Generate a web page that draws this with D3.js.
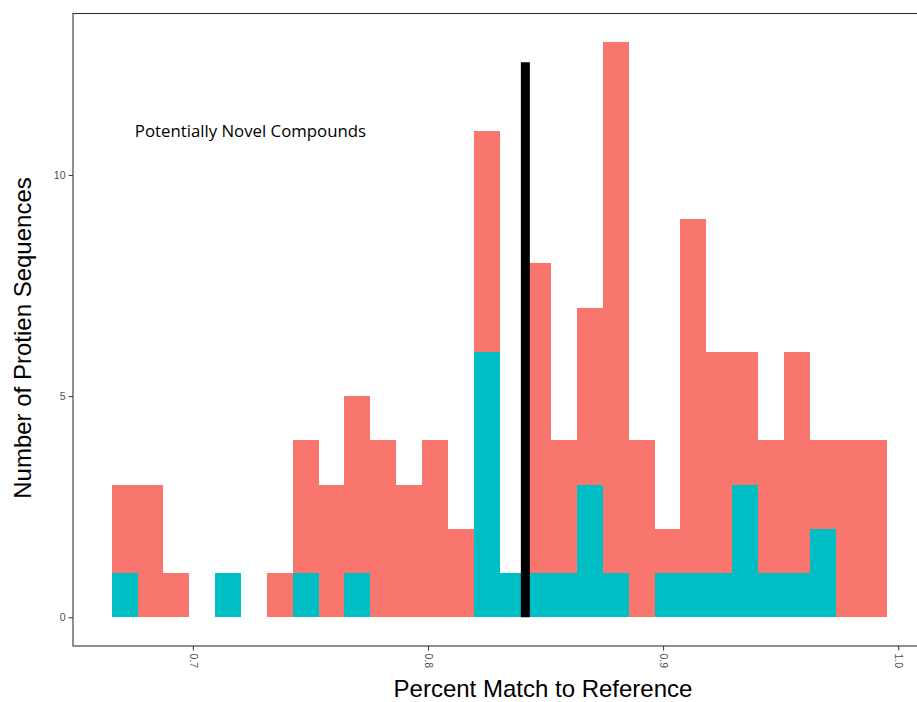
<!DOCTYPE html>
<html>
<head>
<meta charset="utf-8">
<script src="https://cdn.jsdelivr.net/npm/d3@7"></script>
<style>
  html, body { margin: 0; padding: 0; background: #fff; }
  svg { display: block; }
</style>
</head>
<body>
<svg id="chart" width="917" height="702"></svg>
<script>
// Histogram bins (30 bins of equal width)
const binStart = 0.66553;
const binWidth = 0.010993;
const binCount = 30;

// Counts per bin, stacked: teal on the bottom, red on top
const tealCounts = [1,0,0,0,1,0,0,1,0,1,0,0,0,0,6,1,1,1,3,1,0,1,1,1,3,1,1,2,0,0];
const redCounts  = [2,3,1,0,0,0,1,3,3,4,4,3,4,2,5,0,7,3,4,12,4,1,8,5,3,3,5,2,4,4];

// Threshold marker
const thresholdX = 0.84142;
const thresholdTop = 12.55;

// Annotation
const noteText = "Potentially Novel Compounds";
const noteX = 0.7245;
const noteY = 11;

// Axis ticks and titles
const xTicks = [0.7, 0.8, 0.9, 1.0];
const yTicks = [0, 5, 10];
const xTitle = "Percent Match to Reference";
const yTitle = "Number of Protien Sequences";

const colors = { red: "#F8766D", teal: "#00BFC4" };

const svg = d3.select("#chart");
const panel = { left: 73, right: 926, top: 13.5, bottom: 646 };

const lo = binStart, hi = binStart + binCount * binWidth;
const xpad = 0.05 * (hi - lo);
const x = d3.scaleLinear().domain([lo - xpad, hi + xpad]).range([panel.left, panel.right]);
const maxTotal = d3.max(tealCounts.map((t, i) => t + redCounts[i]));
const ypad = 0.05 * maxTotal;
const y = d3.scaleLinear().domain([-ypad, maxTotal + ypad]).range([panel.bottom, panel.top]);

const bins = d3.range(binCount).map(i => ({
  x0: binStart + i * binWidth,
  x1: binStart + (i + 1) * binWidth,
  teal: tealCounts[i],
  red: redCounts[i]
}));

const g = svg.append("g");

// teal layer
g.selectAll("rect.teal").data(bins.filter(d => d.teal > 0)).join("rect")
  .attr("class", "teal")
  .attr("x", d => x(d.x0))
  .attr("width", d => x(d.x1) - x(d.x0))
  .attr("y", d => y(d.teal))
  .attr("height", d => y(0) - y(d.teal))
  .attr("fill", colors.teal)
  .attr("shape-rendering", "crispEdges");

// red layer stacked above
g.selectAll("rect.red").data(bins.filter(d => d.red > 0)).join("rect")
  .attr("class", "red")
  .attr("x", d => x(d.x0))
  .attr("width", d => x(d.x1) - x(d.x0))
  .attr("y", d => y(d.teal + d.red))
  .attr("height", d => y(d.teal) - y(d.teal + d.red))
  .attr("fill", colors.red)
  .attr("shape-rendering", "crispEdges");

// threshold marker
g.append("line")
  .attr("x1", x(thresholdX)).attr("x2", x(thresholdX))
  .attr("y1", y(0)).attr("y2", y(thresholdTop))
  .attr("stroke", "#000").attr("stroke-width", 9);

// annotation
g.append("text")
  .attr("x", x(noteX)).attr("y", y(noteY))
  .attr("dy", "0.35em")
  .attr("text-anchor", "middle")
  .attr("font-family", "'Open Sans', sans-serif")
  .attr("font-size", 16.8)
  .attr("fill", "#000")
  .text(noteText);

// panel border
svg.append("rect")
  .attr("x", panel.left).attr("y", panel.top)
  .attr("width", panel.right - panel.left).attr("height", panel.bottom - panel.top)
  .attr("fill", "none").attr("stroke", "#333").attr("stroke-width", 1.1);

// axes
const yAxis = svg.append("g")
  .attr("transform", `translate(${panel.left},0)`)
  .call(d3.axisLeft(y).tickValues(yTicks).tickSize(4.5).tickPadding(3));
yAxis.select(".domain").remove();
yAxis.selectAll("line").attr("stroke", "#333");
yAxis.selectAll("text")
  .attr("font-family", "'Liberation Sans', Arial, sans-serif")
  .attr("font-size", 10.5).attr("fill", "#4d4d4d");

const xAxis = svg.append("g")
  .attr("transform", `translate(0,${panel.bottom})`)
  .call(d3.axisBottom(x).tickValues(xTicks).tickFormat(d3.format(".1f")).tickSize(4.5).tickPadding(3));
xAxis.select(".domain").remove();
xAxis.selectAll("line").attr("stroke", "#333");
xAxis.selectAll("text")
  .attr("font-family", "'Liberation Sans', Arial, sans-serif")
  .attr("font-size", 10.5).attr("fill", "#4d4d4d")
  .attr("transform", "rotate(90)")
  .attr("x", 7.5).attr("y", 0)
  .attr("dy", "0.35em")
  .attr("text-anchor", "start");

// axis titles
svg.append("text")
  .attr("x", 543).attr("y", 696.5)
  .attr("text-anchor", "middle")
  .attr("font-family", "'Liberation Sans', Arial, sans-serif")
  .attr("font-size", 24).attr("fill", "#000")
  .text(xTitle);

svg.append("text")
  .attr("transform", "translate(31,338) rotate(-90)")
  .attr("text-anchor", "middle")
  .attr("font-family", "'Liberation Sans', Arial, sans-serif")
  .attr("font-size", 24).attr("fill", "#000")
  .text(yTitle);
</script>
</body>
</html>
